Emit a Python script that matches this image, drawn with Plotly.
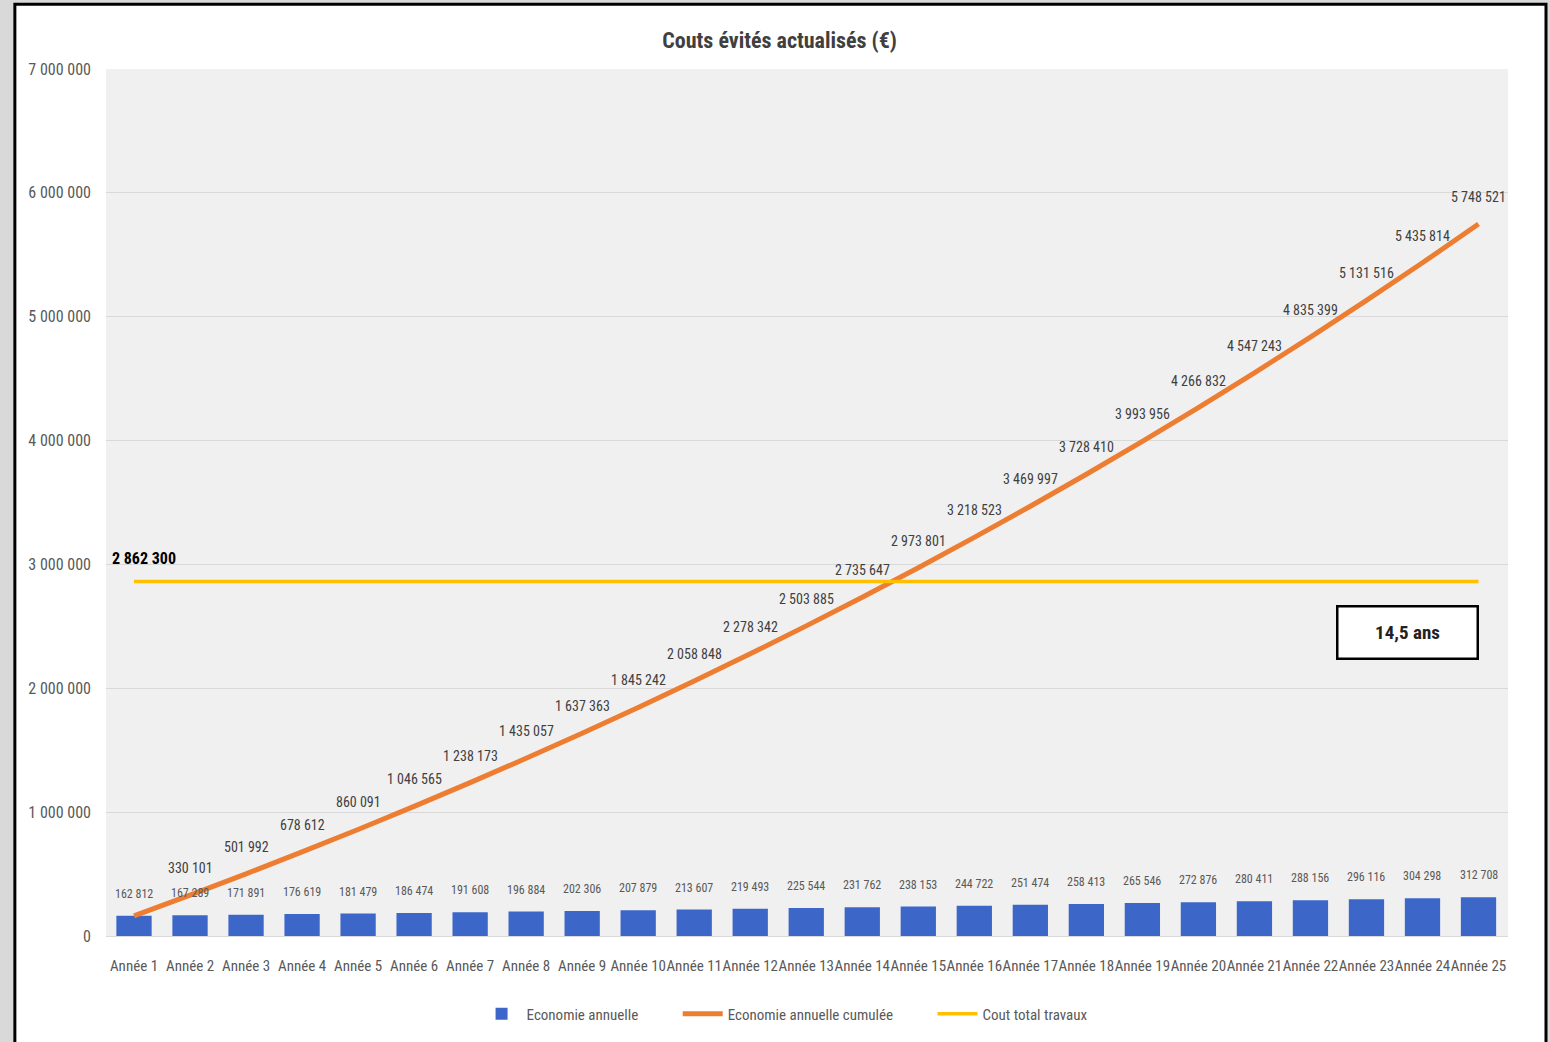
import plotly.graph_objects as go

years = [f"Année {i}" for i in range(1, 26)]
annual = [162812, 167289, 171891, 176619, 181479, 186474, 191608, 196884, 202306, 207879,
          213607, 219493, 225544, 231762, 238153, 244722, 251474, 258413, 265546, 272876,
          280411, 288156, 296116, 304298, 312708]
cumul = [162812, 330101, 501992, 678612, 860091, 1046565, 1238173, 1435057, 1637363, 1845242,
         2058848, 2278342, 2503885, 2735647, 2973801, 3218523, 3469997, 3728410, 3993956, 4266832,
         4547243, 4835399, 5131516, 5435814, 5748521]
cost_total = 2862300
cost = [cost_total] * len(years)
payback_label = "14,5 ans"

FONT = "Liberation Sans Narrow, Roboto Condensed, Liberation Sans, sans-serif"
GREY = "#595959"
PAD = "\u00a0" * 10

def fmt(v):
    return f"{v:,}".replace(",", " ")

fig = go.Figure()
fig.add_trace(go.Bar(x=years, y=annual, name="Economie annuelle" + PAD,
                     marker=dict(color="#3C67C9", line=dict(width=0))))
fig.add_trace(go.Scatter(x=years, y=cumul, name="Economie annuelle cumulée" + PAD, mode="lines",
                         line=dict(color="#ED7D31", width=5, shape="spline")))
fig.add_trace(go.Scatter(x=years, y=cost, name="Cout total travaux", mode="lines",
                         line=dict(color="#FFC000", width=3.5)))

ann = []
for x, v in zip(years, annual):
    ann.append(dict(x=x, y=v, text=fmt(v), showarrow=False, yshift=22,
                    font=dict(size=12, color=GREY, family=FONT)))
# first cumulative value coincides with the first bar label (same value, same place)
for x, v in list(zip(years, cumul))[1:]:
    ann.append(dict(x=x, y=v, text=fmt(v), showarrow=False, yshift=27,
                    font=dict(size=14, color="#404040", family=FONT)))
ann.append(dict(x=years[0], y=cost_total, text=f"<b>{fmt(cost_total)}</b>", showarrow=False,
                xanchor="left", xshift=-24, yshift=23,
                font=dict(size=16, color="#000000", family=FONT)))
ann.append(dict(xref="paper", yref="paper", x=0.928, y=0.35, xanchor="center", yanchor="middle",
                text=f"<b>{payback_label}</b>",
                showarrow=False, width=138, height=50, bgcolor="white",
                bordercolor="black", borderwidth=2.5, borderpad=0,
                font=dict(size=19, color="#222222", family=FONT)))

shapes = [
    dict(type="rect", xref="paper", yref="paper", x0=-0.0650, x1=1.0271, y0=-0.125, y1=1.0748,
         fillcolor="white", line=dict(color="black", width=3), layer="below"),
    dict(type="rect", xref="paper", yref="paper", x0=0, x1=1, y0=0, y1=1,
         fillcolor="#F0F0F0", line=dict(width=0), layer="below"),
]

fig.update_layout(
    width=1550, height=1042,
    margin=dict(l=106, r=42, t=69, b=104),
    paper_bgcolor="#D9D9D9", plot_bgcolor="#F0F0F0",
    separators=", ",
    font=dict(family=FONT, color=GREY),
    title=dict(text="<b>Couts évités actualisés (€)</b>", x=0.503, xanchor="center",
               y=0.961, yanchor="middle", font=dict(size=22, color="#404040", family=FONT)),
    bargap=0.37,
    showlegend=True,
    legend=dict(orientation="h", x=0.484, xanchor="center", y=-0.09, yanchor="middle",
                font=dict(size=15, color=GREY, family=FONT), itemwidth=40,
                bgcolor="rgba(0,0,0,0)"),
    annotations=ann,
    shapes=shapes,
)
fig.update_yaxes(range=[0, 7000000], dtick=1000000, tickformat=",d",
                 gridcolor="#D9D9D9", gridwidth=1, zeroline=False,
                 tickfont=dict(size=16, color=GREY, family=FONT), ticklabelstandoff=14,
                 showline=False)
fig.update_xaxes(tickfont=dict(size=15, color=GREY, family=FONT), showline=True,
                 linecolor="#D9D9D9", linewidth=1, ticks="", tickangle=0,
                 ticklabelstandoff=16)

fig.write_html("out.html")
